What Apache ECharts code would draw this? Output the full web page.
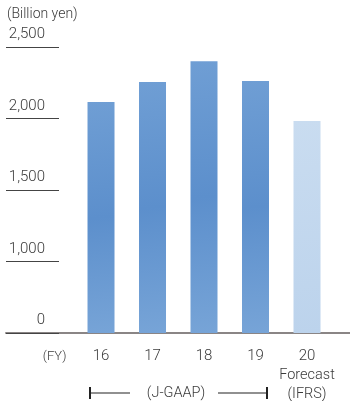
<!DOCTYPE html>
<html>
<head>
<meta charset="utf-8">
<script src="https://cdn.jsdelivr.net/npm/echarts@6/dist/echarts.min.js"></script>
<style>
  html, body { margin: 0; padding: 0; background: #fff; }
  #main { width: 350px; height: 401px; }
</style>
</head>
<body>
<div id="main"></div>
<script>
// 年度 (FY)
const years = [16, 17, 18, 19, 20]
// 売上 (十億円) - 縦軸は 0〜1,000 が省略されている
const sales = [2115, 2255, 2400, 2262, 1982]
const yTicks = [500, 1000, 1500, 2000, 2500]
const yLabels = ['0', '1,000', '1,500', '2,000', '2,500']

const font = 'Roboto, "Liberation Sans", sans-serif'
const textColor = '#3a3a3a'

const barData = years.map((y, i) => ({
  value: [y, sales[i]],
  itemStyle: {
    color: new echarts.graphic.LinearGradient(0, 0, 1, 1, i === 4
      ? [{ offset: 0, color: '#c9dcf0' }, { offset: 1, color: '#bcd3ec' }]
      : [{ offset: 0, color: '#6f9ed4' }, { offset: 0.5, color: '#5c8fcc' }, { offset: 1, color: '#77a4d7' }])
  }
}))

const chart = echarts.init(document.getElementById('main'))
const option = {
  animation: false,
  grid: { left: 6, right: 0, top: 47, bottom: 68, outerBoundsMode: 'none', containLabel: false },
  xAxis: {
    type: 'value',
    min: 14.155,
    max: 20.835,
    axisLine: { show: true, lineStyle: { color: '#8a8585', width: 2 } },
    axisTick: { show: false },
    splitLine: { show: false },
    axisLabel: {
      customValues: [15.1, 16, 17, 18, 19, 20],
      margin: 14,
      verticalAlign: 'top',
      lineHeight: 19,
      fontFamily: font,
      fontWeight: 300,
      fontSize: 15,
      color: textColor,
      formatter: function (v) {
        if (v < 16) return '{s|(FY)}'
        if (v === 20) return '20\n{f|Forecast}\n{f|(IFRS)}'
        return String(v)
      },
      rich: {
        s: { fontSize: 13, fontFamily: font, fontWeight: 300, color: textColor, lineHeight: 19 },
        f: { fontSize: 14.5, fontFamily: font, fontWeight: 300, color: textColor, lineHeight: 19 }
      }
    }
  },
  yAxis: {
    type: 'value',
    min: 500,
    max: 2500,
    interval: 500,
    axisLine: { show: false },
    splitLine: { show: false },
    axisTick: { show: true, inside: true, length: 53, lineStyle: { color: '#444', width: 1 } },
    axisLabel: {
      inside: true,
      margin: 39,
      align: 'right',
      verticalAlign: 'bottom',
      padding: [0, 0, 5, 0],
      fontFamily: font,
      fontWeight: 300,
      fontSize: 15,
      color: textColor,
      formatter: function (v) {
        return yLabels[yTicks.indexOf(v)]
      }
    }
  },
  series: [{
    type: 'bar',
    barWidth: 27,
    data: barData
  }],
  graphic: [
    { type: 'text', left: 7, top: 7, style: { text: '(Billion yen)', font: '300 14px ' + font, fill: textColor } },
    { type: 'line', shape: { x1: 90, y1: 393, x2: 130, y2: 393 }, style: { stroke: '#222', lineWidth: 1.2 } },
    { type: 'line', shape: { x1: 90, y1: 387, x2: 90, y2: 399 }, style: { stroke: '#222', lineWidth: 2 } },
    { type: 'line', shape: { x1: 218, y1: 393, x2: 267, y2: 393 }, style: { stroke: '#222', lineWidth: 1.2 } },
    { type: 'line', shape: { x1: 267, y1: 387, x2: 267, y2: 399 }, style: { stroke: '#222', lineWidth: 2 } },
    { type: 'text', x: 176, y: 393, style: { text: '(J-GAAP)', font: '300 14.5px ' + font, fill: textColor, textAlign: 'center', textVerticalAlign: 'middle' } }
  ]
}
chart.setOption(option)
</script>
</body>
</html>
